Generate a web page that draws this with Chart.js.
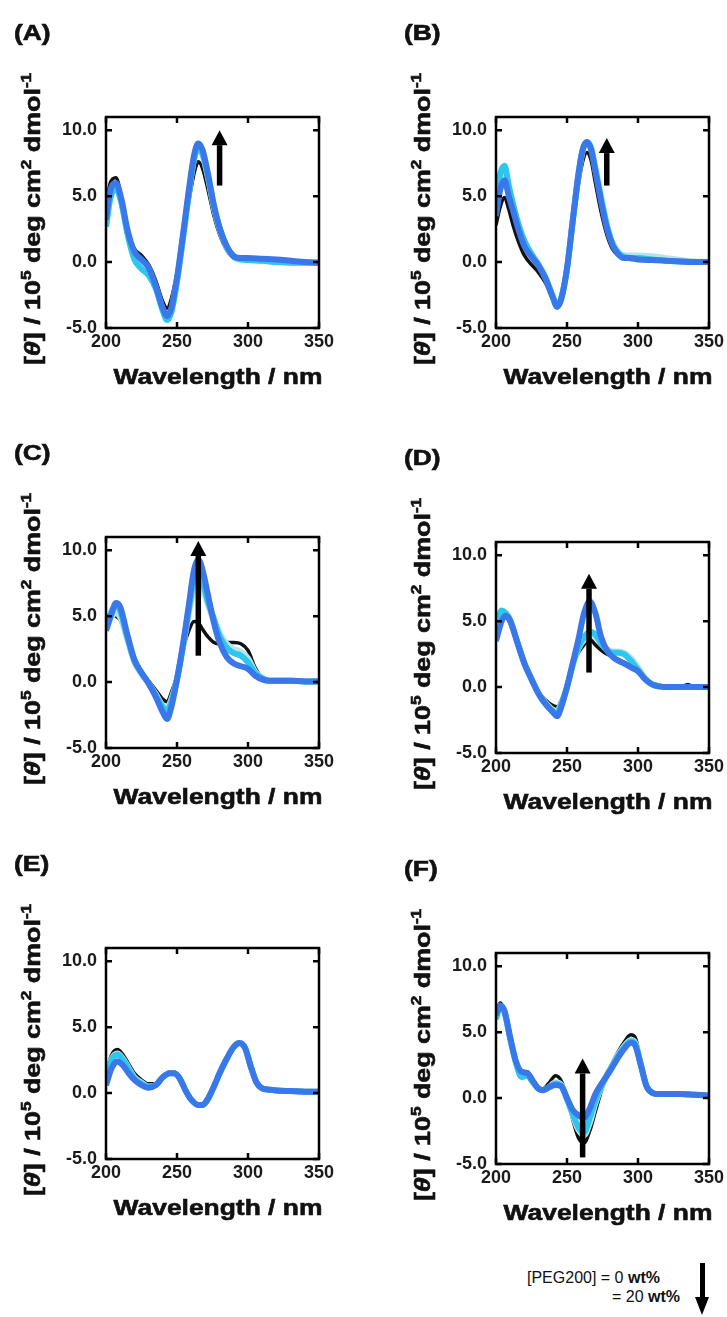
<!DOCTYPE html>
<html>
<head>
<meta charset="utf-8">
<script src="https://cdn.jsdelivr.net/npm/chart.js@4.4.1/dist/chart.umd.min.js"></script>
<style>
  body { margin: 0; background: #fff; }
  #page { position: relative; width: 727px; height: 1317px; overflow: hidden; background: #fff; }
  #page canvas { position: absolute; }
  .legend { position: absolute; font: 16px "Liberation Sans", Arial, sans-serif; color: #111; line-height: 1; white-space: nowrap; }
  .legend b { font-weight: bold; }
  #arrowShaft { position: absolute; left: 700px; top: 1263px; width: 5px; height: 36px; background: #000; }
  #arrowHead { position: absolute; left: 695px; top: 1297px; width: 0; height: 0;
    border-left: 7.5px solid transparent; border-right: 7.5px solid transparent; border-top: 18px solid #000; }
</style>
</head>
<body>
<div id="page">
  <canvas id="panelA" width="337" height="410"></canvas>
  <canvas id="panelB" width="337" height="410"></canvas>
  <canvas id="panelC" width="337" height="410"></canvas>
  <canvas id="panelD" width="337" height="410"></canvas>
  <canvas id="panelE" width="337" height="410"></canvas>
  <canvas id="panelF" width="337" height="410"></canvas>
  <div class="legend" style="left:527px; top:1270px;">[PEG200] = 0 <b>wt%</b></div>
  <div class="legend" style="left:612px; top:1289px;">= 20 <b>wt%</b></div>
  <div id="arrowShaft"></div>
  <div id="arrowHead"></div>
</div>
<script>
// series: [PEG200] = 0, 5, 10, 20 wt%
var seriesLabels = ['0 wt%', '5 wt%', '10 wt%', '20 wt%'];
var xTickValues = [200, 250, 300, 350];
var yTickValues = [-5, 0, 5, 10];

// (A)
var wlA = [200, 203, 207, 211, 215, 220, 225, 230, 235, 240, 243, 246, 250, 254, 258, 262, 265, 268, 272, 276, 280, 285, 290, 295, 300, 310, 320, 330, 340, 350];
var A_0 = [4.0, 6.0, 6.4, 4.8, 2.5, 1.0, 0.5, -0.2, -1.4, -3.0, -3.5, -2.8, -0.8, 1.8, 4.4, 6.7, 7.6, 7.1, 5.4, 3.5, 2.1, 0.9, 0.3, 0.2, 0.2, 0.15, 0.1, 0.05, 0.0, 0.0];
var A_5 = [3.0, 5.0, 5.8, 4.5, 2.3, 0.5, -0.2, -0.8, -1.9, -3.6, -4.2, -3.6, -1.3, 1.7, 5.0, 7.8, 8.6, 8.1, 6.3, 4.1, 2.5, 1.1, 0.4, 0.2, 0.2, 0.1, 0.05, 0.0, -0.05, -0.05];
var A_10 = [2.7, 4.8, 5.6, 4.4, 2.2, 0.2, -0.5, -1.0, -2.0, -3.7, -4.4, -3.8, -1.5, 1.6, 4.9, 7.8, 8.6, 8.2, 6.4, 4.2, 2.6, 1.2, 0.4, 0.2, 0.15, 0.1, 0.0, -0.05, -0.05, -0.05];
var A_20 = [3.2, 5.4, 6.0, 4.7, 2.5, 0.8, 0.2, -0.4, -1.8, -3.5, -4.1, -3.5, -1.2, 1.9, 5.2, 8.1, 9.0, 8.5, 6.6, 4.3, 2.6, 1.2, 0.45, 0.3, 0.3, 0.25, 0.2, 0.1, 0.0, -0.05];

// (B)
var wlB = [200, 203, 206, 209, 212, 216, 220, 225, 230, 235, 240, 243, 246, 250, 254, 258, 261, 264, 267, 270, 274, 278, 282, 286, 290, 295, 300, 310, 320, 330, 340, 350];
var B_0 = [2.8, 4.2, 4.9, 4.0, 2.8, 1.5, 0.5, -0.2, -0.8, -1.6, -2.8, -3.4, -2.9, -0.8, 2.5, 5.8, 7.6, 8.3, 7.7, 6.0, 3.8, 2.1, 1.0, 0.5, 0.3, 0.2, 0.2, 0.1, 0.05, 0.0, 0.0, 0.0];
var B_5 = [4.2, 6.4, 7.0, 5.5, 4.2, 2.7, 1.6, 0.6, -0.2, -1.2, -2.6, -3.3, -2.7, -0.5, 3.0, 6.5, 8.4, 9.1, 8.7, 7.2, 5.0, 2.9, 1.5, 0.8, 0.5, 0.5, 0.5, 0.45, 0.3, 0.15, 0.05, 0.0];
var B_10 = [4.6, 6.7, 7.3, 5.8, 4.4, 2.8, 1.6, 0.6, -0.2, -1.2, -2.6, -3.3, -2.7, -0.5, 3.1, 6.6, 8.5, 9.1, 8.6, 7.0, 4.8, 2.8, 1.4, 0.7, 0.4, 0.3, 0.3, 0.2, 0.1, 0.05, 0.0, 0.0];
var B_20 = [3.5, 5.5, 6.2, 5.0, 3.9, 2.4, 1.2, 0.4, -0.3, -1.3, -2.7, -3.4, -2.8, -0.5, 3.1, 6.6, 8.5, 9.1, 8.5, 6.9, 4.6, 2.6, 1.3, 0.6, 0.3, 0.3, 0.2, 0.15, 0.1, 0.05, 0.0, 0.0];

// (C)
var wlC = [200, 204, 207, 210, 215, 220, 225, 230, 235, 240, 243, 246, 250, 254, 258, 262, 265, 268, 272, 276, 280, 285, 290, 295, 300, 305, 310, 315, 320, 330, 340, 350];
var C_0 = [4.8, 5.3, 5.0, 4.7, 3.3, 1.7, 0.8, 0.1, -0.6, -1.3, -1.5, -0.8, 0.5, 2.4, 3.8, 4.6, 4.5, 4.0, 3.4, 3.0, 2.9, 3.0, 3.0, 2.9, 2.4, 1.1, 0.3, 0.1, 0.1, 0.1, 0.05, 0.05];
var C_5 = [4.0, 5.0, 5.2, 4.9, 3.2, 1.5, 0.6, -0.1, -0.9, -1.8, -2.0, -1.3, 0.2, 2.5, 5.0, 7.0, 7.6, 7.0, 5.8, 4.6, 3.7, 2.9, 2.5, 2.3, 1.8, 0.8, 0.3, 0.1, 0.1, 0.1, 0.05, 0.05];
var C_10 = [4.0, 5.4, 5.8, 5.4, 3.4, 1.6, 0.7, -0.1, -1.0, -1.9, -2.2, -1.5, 0.2, 2.6, 5.3, 7.8, 8.4, 7.6, 6.0, 4.8, 3.5, 2.6, 2.2, 2.0, 1.5, 0.7, 0.3, 0.1, 0.1, 0.1, 0.05, 0.05];
var C_20 = [3.9, 5.2, 6.0, 5.7, 3.6, 1.7, 0.7, -0.1, -1.1, -2.3, -2.8, -1.9, 0.2, 2.7, 5.6, 8.5, 9.3, 8.5, 6.5, 4.5, 3.0, 1.9, 1.4, 1.2, 1.0, 0.5, 0.2, 0.1, 0.1, 0.1, 0.05, 0.05];

// (D)
var wlD = [200, 204, 207, 210, 215, 220, 225, 230, 235, 240, 243, 246, 250, 254, 258, 262, 266, 270, 274, 278, 282, 286, 290, 295, 300, 305, 310, 315, 320, 330, 335, 340, 350];
var D_0 = [3.8, 5.2, 5.3, 4.9, 3.4, 1.8, 0.6, -0.4, -1.0, -1.4, -1.5, -1.0, 0.2, 1.6, 2.6, 3.2, 3.6, 3.2, 2.8, 2.5, 2.3, 2.1, 1.9, 1.6, 1.2, 0.6, 0.2, 0.05, 0.0, 0.0, 0.2, 0.0, 0.0];
var D_5 = [4.5, 5.7, 5.5, 5.0, 3.4, 1.8, 0.6, -0.5, -1.2, -1.7, -1.8, -1.2, 0.0, 1.6, 2.9, 3.6, 4.0, 3.8, 3.3, 2.9, 2.7, 2.7, 2.6, 2.2, 1.5, 0.7, 0.2, 0.05, 0.0, 0.0, 0.0, 0.0, 0.0];
var D_10 = [4.5, 5.8, 5.6, 5.1, 3.4, 1.8, 0.6, -0.5, -1.3, -1.8, -2.0, -1.3, 0.0, 1.7, 3.0, 3.8, 4.2, 4.0, 3.3, 2.8, 2.6, 2.6, 2.5, 2.0, 1.3, 0.6, 0.2, 0.05, 0.0, 0.0, 0.0, 0.0, 0.0];
var D_20 = [3.5, 5.0, 5.4, 5.0, 3.4, 1.8, 0.6, -0.5, -1.3, -1.9, -2.2, -1.5, 0.0, 1.8, 3.6, 5.6, 6.5, 5.6, 3.8, 2.8, 2.3, 2.0, 1.8, 1.5, 1.2, 0.6, 0.2, 0.05, 0.0, 0.0, 0.0, 0.0, 0.0];

// (E)
var wlE = [200, 204, 208, 212, 216, 220, 225, 230, 235, 240, 245, 248, 252, 256, 260, 265, 268, 272, 276, 280, 285, 290, 294, 298, 302, 306, 310, 315, 320, 330, 340, 350];
var E_0 = [1.5, 2.9, 3.3, 2.9, 2.2, 1.5, 1.0, 0.7, 0.7, 1.3, 1.6, 1.6, 1.2, 0.3, -0.5, -0.9, -0.9, -0.4, 0.5, 1.5, 2.6, 3.5, 3.8, 3.4, 2.0, 0.8, 0.35, 0.25, 0.2, 0.15, 0.1, 0.1];
var E_5 = [1.2, 2.6, 3.0, 2.6, 1.9, 1.2, 0.8, 0.5, 0.6, 1.2, 1.5, 1.5, 1.1, 0.2, -0.5, -0.9, -0.9, -0.4, 0.5, 1.5, 2.6, 3.5, 3.8, 3.4, 2.0, 0.8, 0.35, 0.25, 0.2, 0.15, 0.1, 0.1];
var E_10 = [1.1, 2.5, 2.9, 2.5, 1.8, 1.1, 0.7, 0.5, 0.6, 1.2, 1.5, 1.5, 1.1, 0.2, -0.5, -0.9, -0.9, -0.4, 0.5, 1.5, 2.6, 3.5, 3.8, 3.4, 2.0, 0.8, 0.35, 0.25, 0.2, 0.15, 0.1, 0.1];
var E_20 = [0.6, 1.9, 2.4, 2.1, 1.5, 1.0, 0.6, 0.4, 0.6, 1.2, 1.5, 1.5, 1.1, 0.2, -0.5, -0.9, -0.9, -0.4, 0.5, 1.5, 2.6, 3.5, 3.8, 3.4, 2.0, 0.8, 0.35, 0.25, 0.2, 0.15, 0.1, 0.1];

// (F)
var wlF = [200, 203, 206, 210, 214, 218, 222, 226, 230, 233, 237, 242, 246, 250, 254, 258, 262, 266, 270, 275, 280, 285, 290, 295, 298, 302, 306, 310, 315, 320, 330, 340, 350];
var F_0 = [6.5, 7.2, 6.6, 4.6, 2.9, 1.9, 2.0, 1.3, 0.8, 0.7, 1.1, 1.7, 1.3, 0.0, -1.6, -3.0, -3.4, -2.5, -1.0, 0.8, 2.2, 3.3, 4.2, 4.8, 4.6, 2.8, 1.0, 0.4, 0.3, 0.3, 0.3, 0.25, 0.2];
var F_5 = [6.0, 7.0, 6.5, 4.5, 2.7, 1.6, 1.7, 1.2, 0.7, 0.6, 0.8, 1.2, 1.0, 0.0, -1.3, -2.4, -2.8, -1.9, -0.4, 1.0, 2.1, 3.1, 3.9, 4.4, 4.2, 2.6, 0.9, 0.4, 0.3, 0.3, 0.3, 0.25, 0.2];
var F_10 = [6.0, 7.0, 6.5, 4.5, 2.7, 1.6, 1.7, 1.2, 0.7, 0.6, 0.8, 1.1, 0.9, -0.1, -1.2, -2.2, -2.6, -1.5, -0.2, 1.1, 2.1, 3.0, 3.8, 4.3, 4.1, 2.5, 0.9, 0.4, 0.3, 0.3, 0.3, 0.25, 0.2];
var F_20 = [6.3, 7.0, 6.6, 4.6, 2.8, 2.0, 1.9, 1.3, 0.7, 0.6, 0.8, 1.0, 0.9, 0.0, -0.9, -1.3, -1.5, -0.8, 0.3, 1.2, 2.0, 2.9, 3.7, 4.2, 4.0, 2.5, 0.9, 0.4, 0.3, 0.3, 0.3, 0.25, 0.2];

// trend arrows (wavelength, start value, tip value); E has none
var arrowWavelength = [280, 278, 265, 265.5, null, 261];
var arrowFrom = [5.8, 5.8, 2.0, 1.1, null, -4.5];
var arrowTo = [10.0, 9.4, 10.7, 8.6, null, 3.0];

// styles
var seriesColors = ['#111111', '#b4e3ea', '#2ec5ee', '#3a78ea'];
var seriesWidths = [3.5, 6, 6, 6];
var panelOffsets = { A: [0, 0], B: [390, 0], C: [0, 420], D: [390, 425], E: [0, 831], F: [390, 836] };
var FONT = '"Liberation Sans", Arial, sans-serif';

var panels = [
  { id: 'A', wl: wlA, series: [A_0, A_5, A_10, A_20] },
  { id: 'B', wl: wlB, series: [B_0, B_5, B_10, B_20] },
  { id: 'C', wl: wlC, series: [C_0, C_5, C_10, C_20] },
  { id: 'D', wl: wlD, series: [D_0, D_5, D_10, D_20] },
  { id: 'E', wl: wlE, series: [E_0, E_5, E_10, E_20] },
  { id: 'F', wl: wlF, series: [F_0, F_5, F_10, F_20] },
];

var yTitleParts = [
  { t: '[' }, { t: '\u03B8', it: true }, { t: '] / 10' }, { t: '5', sup: true },
  { t: ' deg cm' }, { t: '2', sup: true }, { t: ' dmol' }, { t: '-1', sup: true }
];

function partFont(p, size) {
  return (p.it ? 'italic ' : '') + 'bold ' + (p.sup ? Math.round(size * 0.62) : size) + 'px ' + FONT;
}

function drawRich(ctx, parts, size) {
  var widths = parts.map(function (p) { ctx.font = partFont(p, size); return ctx.measureText(p.t).width; });
  var total = widths.reduce(function (s, w) { return s + w; }, 0);
  var x = -total / 2;
  parts.forEach(function (p, i) {
    ctx.font = partFont(p, size);
    ctx.fillText(p.t, x, p.sup ? -size * 0.4 : 0);
    ctx.strokeText(p.t, x, p.sup ? -size * 0.4 : 0);
    x += widths[i];
  });
}

function heavyText(ctx, text, x, y) {
  ctx.fillText(text, x, y);
  ctx.strokeText(text, x, y);
}

// box, inside ticks, arrow and titles
function decor(panel, idx) {
  return {
    id: 'decor' + panel.id,
    afterDatasetsDraw: function (chart) {
      var ctx = chart.ctx, a = chart.chartArea;
      var xs = chart.scales.x, ys = chart.scales.y;
      ctx.save();
      ctx.strokeStyle = '#000';
      ctx.lineWidth = 2.5;
      ctx.strokeRect(a.left, a.top, a.right - a.left, a.bottom - a.top);
      var tl = 6;
      ctx.beginPath();
      xTickValues.forEach(function (v) {
        var x = xs.getPixelForValue(v);
        ctx.moveTo(x, a.bottom); ctx.lineTo(x, a.bottom - tl);
        ctx.moveTo(x, a.top); ctx.lineTo(x, a.top + tl);
      });
      yTickValues.forEach(function (v) {
        var y = ys.getPixelForValue(v);
        ctx.moveTo(a.left, y); ctx.lineTo(a.left + tl, y);
        ctx.moveTo(a.right, y); ctx.lineTo(a.right - tl, y);
      });
      ctx.stroke();

      if (arrowWavelength[idx] !== null) {
        var ax = xs.getPixelForValue(arrowWavelength[idx]);
        var y0 = ys.getPixelForValue(arrowFrom[idx]);
        var y1 = ys.getPixelForValue(arrowTo[idx]);
        var dir = y1 < y0 ? 1 : -1;
        var headLen = 15, headW = 8;
        ctx.fillStyle = '#000';
        ctx.lineWidth = 5.5;
        ctx.lineCap = 'butt';
        ctx.beginPath();
        ctx.moveTo(ax, y0);
        ctx.lineTo(ax, y1 + dir * headLen);
        ctx.stroke();
        ctx.beginPath();
        ctx.moveTo(ax, y1);
        ctx.lineTo(ax - headW, y1 + dir * headLen);
        ctx.lineTo(ax + headW, y1 + dir * headLen);
        ctx.closePath();
        ctx.fill();
      }
      ctx.restore();
    },
    afterDraw: function (chart) {
      var ctx = chart.ctx, a = chart.chartArea;
      ctx.save();
      ctx.fillStyle = '#111';
      ctx.strokeStyle = '#111';
      ctx.lineWidth = 0.6;
      ctx.textBaseline = 'alphabetic';

      // panel letter
      ctx.save();
      ctx.translate(a.left - 92, a.top - 77);
      ctx.scale(1.2, 1);
      ctx.font = 'bold 22px ' + FONT;
      ctx.textAlign = 'left';
      heavyText(ctx, '(' + panel.id + ')', 0, 0);
      ctx.restore();

      // x title
      ctx.save();
      ctx.translate(a.left + 112, a.bottom + 56);
      ctx.scale(1.2, 1);
      ctx.font = 'bold 22px ' + FONT;
      ctx.textAlign = 'center';
      heavyText(ctx, 'Wavelength / nm', 0, 0);
      ctx.restore();

      // y title
      ctx.save();
      ctx.translate(a.left - 66, a.top + 102);
      ctx.rotate(-Math.PI / 2);
      ctx.scale(1.22, 1);
      ctx.textAlign = 'left';
      drawRich(ctx, yTitleParts, 22);
      ctx.restore();

      ctx.restore();
    }
  };
}

function drawPanel(panel, idx) {
  var canvas = document.getElementById('panel' + panel.id);
  var off = panelOffsets[panel.id];
  canvas.style.left = off[0] + 'px';
  canvas.style.top = off[1] + 'px';

  var datasets = seriesLabels.map(function (label, k) {
    return {
      label: label,
      data: panel.wl.map(function (w, j) { return { x: w, y: panel.series[k][j] }; }),
      borderColor: seriesColors[k],
      backgroundColor: seriesColors[k],
      borderWidth: seriesWidths[k],
      pointRadius: 0,
      cubicInterpolationMode: 'monotone',
      order: seriesLabels.length - 1 - k
    };
  });

  var tickFont = { family: FONT, size: 18, weight: 'bold' };

  new Chart(canvas, {
    type: 'line',
    data: { datasets: datasets },
    options: {
      responsive: false,
      animation: false,
      devicePixelRatio: 1,
      layout: { padding: { left: 46, right: 18, top: 117, bottom: 52 } },
      plugins: {
        legend: { display: false },
        tooltip: { enabled: false },
      },
      scales: {
        x: {
          type: 'linear',
          min: 200,
          max: 350,
          afterBuildTicks: function (s) { s.ticks = xTickValues.map(function (v) { return { value: v }; }); },
          afterFit: function (s) { s.height = 30; s.paddingLeft = 0; s.paddingRight = 0; },
          grid: { display: false, drawTicks: false },
          border: { display: false },
          ticks: {
            font: tickFont, color: '#1a1a1a', padding: 3, maxRotation: 0, autoSkip: false,
            callback: function (v) { return String(v); }
          }
        },
        y: {
          type: 'linear',
          min: -5,
          max: 11,
          afterBuildTicks: function (s) { s.ticks = yTickValues.map(function (v) { return { value: v }; }); },
          afterFit: function (s) { s.width = 60; s.paddingTop = 0; s.paddingBottom = 0; },
          grid: { display: false, drawTicks: false },
          border: { display: false },
          ticks: {
            font: tickFont, color: '#1a1a1a', padding: 9,
            callback: function (v) { return Number(v).toFixed(1); }
          }
        }
      }
    },
    plugins: [decor(panel, idx)]
  });
}

panels.forEach(drawPanel);
</script>
</body>
</html>
